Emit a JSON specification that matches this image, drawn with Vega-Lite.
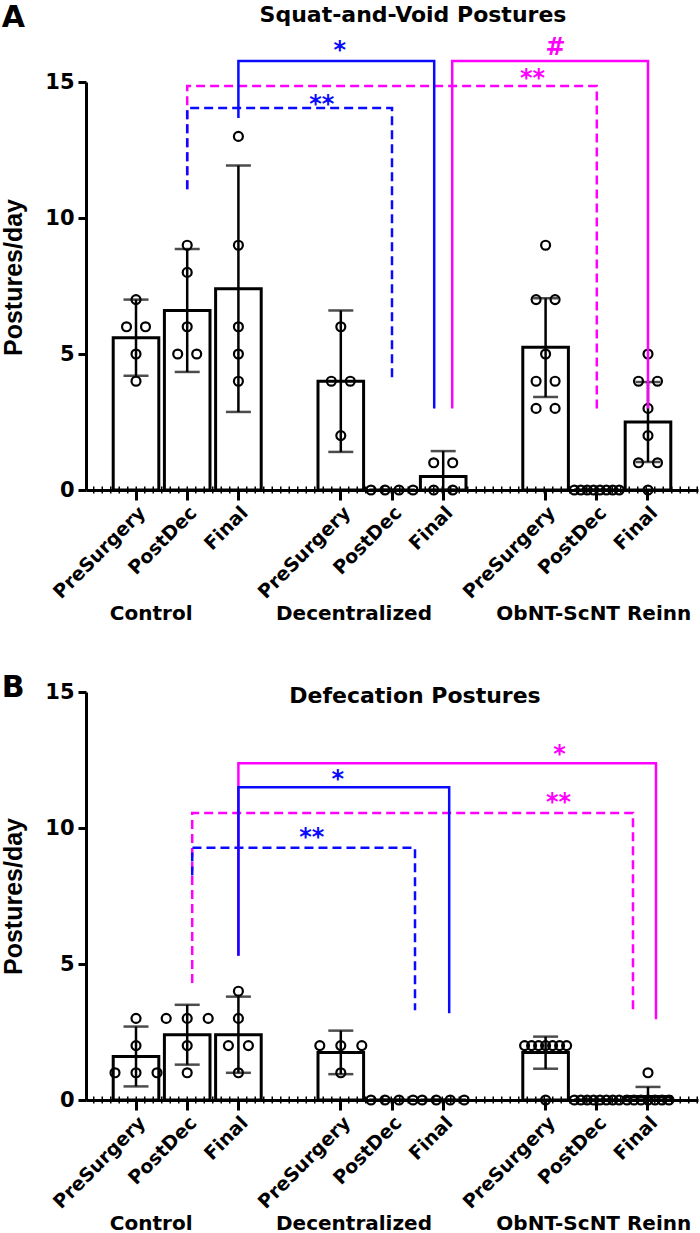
{
  "$schema": "https://vega.github.io/schema/vega-lite/v6.json",
  "background": "white",
  "padding": {"left": 1, "top": 3, "right": 3, "bottom": 0},
  "spacing": 49,
  "datasets": {
    "bars": [
      {"panel": "A", "cat": "Control|PreSurgery", "mean": 5.6, "lo": 4.2, "hi": 7.0},
      {"panel": "A", "cat": "Control|PostDec", "mean": 6.6, "lo": 4.34, "hi": 8.86},
      {"panel": "A", "cat": "Control|Final", "mean": 7.4, "lo": 2.87, "hi": 11.93},
      {"panel": "A", "cat": "Decentralized|PreSurgery", "mean": 4.0, "lo": 1.4, "hi": 6.6},
      {"panel": "A", "cat": "Decentralized|PostDec", "mean": 0, "lo": 0, "hi": 0},
      {"panel": "A", "cat": "Decentralized|Final", "mean": 0.5, "lo": 0, "hi": 1.43},
      {"panel": "A", "cat": "ObNT-ScNT Reinn|PreSurgery", "mean": 5.25, "lo": 3.42, "hi": 7.05},
      {"panel": "A", "cat": "ObNT-ScNT Reinn|PostDec", "mean": 0, "lo": 0, "hi": 0},
      {"panel": "A", "cat": "ObNT-ScNT Reinn|Final", "mean": 2.5, "lo": 1.03, "hi": 3.97},
      {"panel": "B", "cat": "Control|PreSurgery", "mean": 1.6, "lo": 0.5, "hi": 2.7},
      {"panel": "B", "cat": "Control|PostDec", "mean": 2.4, "lo": 1.3, "hi": 3.5},
      {"panel": "B", "cat": "Control|Final", "mean": 2.4, "lo": 1.0, "hi": 3.8},
      {"panel": "B", "cat": "Decentralized|PreSurgery", "mean": 1.75, "lo": 0.95, "hi": 2.55},
      {"panel": "B", "cat": "Decentralized|PostDec", "mean": 0, "lo": 0, "hi": 0},
      {"panel": "B", "cat": "Decentralized|Final", "mean": 0, "lo": 0, "hi": 0},
      {"panel": "B", "cat": "ObNT-ScNT Reinn|PreSurgery", "mean": 1.75, "lo": 1.15, "hi": 2.33},
      {"panel": "B", "cat": "ObNT-ScNT Reinn|PostDec", "mean": 0, "lo": 0, "hi": 0},
      {"panel": "B", "cat": "ObNT-ScNT Reinn|Final", "mean": 0.125, "lo": 0, "hi": 0.48}
    ],
    "points": [
      {"panel": "A", "cat": "Control|PreSurgery", "value": 7, "jitter": 0},
      {"panel": "A", "cat": "Control|PreSurgery", "value": 6, "jitter": -9.5},
      {"panel": "A", "cat": "Control|PreSurgery", "value": 6, "jitter": 9.5},
      {"panel": "A", "cat": "Control|PreSurgery", "value": 5, "jitter": 0},
      {"panel": "A", "cat": "Control|PreSurgery", "value": 4, "jitter": 0},
      {"panel": "A", "cat": "Control|PostDec", "value": 9, "jitter": 0},
      {"panel": "A", "cat": "Control|PostDec", "value": 8, "jitter": 0},
      {"panel": "A", "cat": "Control|PostDec", "value": 6, "jitter": 0},
      {"panel": "A", "cat": "Control|PostDec", "value": 5, "jitter": -9.5},
      {"panel": "A", "cat": "Control|PostDec", "value": 5, "jitter": 9.5},
      {"panel": "A", "cat": "Control|Final", "value": 13, "jitter": 0},
      {"panel": "A", "cat": "Control|Final", "value": 9, "jitter": 0},
      {"panel": "A", "cat": "Control|Final", "value": 6, "jitter": 0},
      {"panel": "A", "cat": "Control|Final", "value": 5, "jitter": 0},
      {"panel": "A", "cat": "Control|Final", "value": 4, "jitter": 0},
      {"panel": "A", "cat": "Decentralized|PreSurgery", "value": 6, "jitter": 0},
      {"panel": "A", "cat": "Decentralized|PreSurgery", "value": 4, "jitter": -9.5},
      {"panel": "A", "cat": "Decentralized|PreSurgery", "value": 4, "jitter": 9.5},
      {"panel": "A", "cat": "Decentralized|PreSurgery", "value": 2, "jitter": 0},
      {"panel": "A", "cat": "Decentralized|PostDec", "value": 0, "jitter": -21},
      {"panel": "A", "cat": "Decentralized|PostDec", "value": 0, "jitter": -7},
      {"panel": "A", "cat": "Decentralized|PostDec", "value": 0, "jitter": 7},
      {"panel": "A", "cat": "Decentralized|PostDec", "value": 0, "jitter": 21},
      {"panel": "A", "cat": "Decentralized|Final", "value": 1, "jitter": -9.5},
      {"panel": "A", "cat": "Decentralized|Final", "value": 1, "jitter": 9.5},
      {"panel": "A", "cat": "Decentralized|Final", "value": 0, "jitter": -9.5},
      {"panel": "A", "cat": "Decentralized|Final", "value": 0, "jitter": 9.5},
      {"panel": "A", "cat": "ObNT-ScNT Reinn|PreSurgery", "value": 9, "jitter": 0},
      {"panel": "A", "cat": "ObNT-ScNT Reinn|PreSurgery", "value": 7, "jitter": -9.5},
      {"panel": "A", "cat": "ObNT-ScNT Reinn|PreSurgery", "value": 7, "jitter": 9.5},
      {"panel": "A", "cat": "ObNT-ScNT Reinn|PreSurgery", "value": 5, "jitter": 0},
      {"panel": "A", "cat": "ObNT-ScNT Reinn|PreSurgery", "value": 4, "jitter": -9.5},
      {"panel": "A", "cat": "ObNT-ScNT Reinn|PreSurgery", "value": 4, "jitter": 9.5},
      {"panel": "A", "cat": "ObNT-ScNT Reinn|PreSurgery", "value": 3, "jitter": -9.5},
      {"panel": "A", "cat": "ObNT-ScNT Reinn|PreSurgery", "value": 3, "jitter": 9.5},
      {"panel": "A", "cat": "ObNT-ScNT Reinn|PostDec", "value": 0, "jitter": -22.4},
      {"panel": "A", "cat": "ObNT-ScNT Reinn|PostDec", "value": 0, "jitter": -16},
      {"panel": "A", "cat": "ObNT-ScNT Reinn|PostDec", "value": 0, "jitter": -9.6},
      {"panel": "A", "cat": "ObNT-ScNT Reinn|PostDec", "value": 0, "jitter": -3.2},
      {"panel": "A", "cat": "ObNT-ScNT Reinn|PostDec", "value": 0, "jitter": 3.2},
      {"panel": "A", "cat": "ObNT-ScNT Reinn|PostDec", "value": 0, "jitter": 9.6},
      {"panel": "A", "cat": "ObNT-ScNT Reinn|PostDec", "value": 0, "jitter": 16},
      {"panel": "A", "cat": "ObNT-ScNT Reinn|PostDec", "value": 0, "jitter": 22.4},
      {"panel": "A", "cat": "ObNT-ScNT Reinn|Final", "value": 5, "jitter": 0},
      {"panel": "A", "cat": "ObNT-ScNT Reinn|Final", "value": 4, "jitter": -9.5},
      {"panel": "A", "cat": "ObNT-ScNT Reinn|Final", "value": 4, "jitter": 9.5},
      {"panel": "A", "cat": "ObNT-ScNT Reinn|Final", "value": 3, "jitter": 0},
      {"panel": "A", "cat": "ObNT-ScNT Reinn|Final", "value": 2, "jitter": 0},
      {"panel": "A", "cat": "ObNT-ScNT Reinn|Final", "value": 1, "jitter": -9.5},
      {"panel": "A", "cat": "ObNT-ScNT Reinn|Final", "value": 1, "jitter": 9.5},
      {"panel": "A", "cat": "ObNT-ScNT Reinn|Final", "value": 0, "jitter": 0},
      {"panel": "B", "cat": "Control|PreSurgery", "value": 3, "jitter": 0},
      {"panel": "B", "cat": "Control|PreSurgery", "value": 2, "jitter": 0},
      {"panel": "B", "cat": "Control|PreSurgery", "value": 1, "jitter": -21},
      {"panel": "B", "cat": "Control|PreSurgery", "value": 1, "jitter": 0},
      {"panel": "B", "cat": "Control|PreSurgery", "value": 1, "jitter": 21},
      {"panel": "B", "cat": "Control|PostDec", "value": 3, "jitter": -21},
      {"panel": "B", "cat": "Control|PostDec", "value": 3, "jitter": 0},
      {"panel": "B", "cat": "Control|PostDec", "value": 3, "jitter": 21},
      {"panel": "B", "cat": "Control|PostDec", "value": 2, "jitter": 0},
      {"panel": "B", "cat": "Control|PostDec", "value": 1, "jitter": 0},
      {"panel": "B", "cat": "Control|Final", "value": 4, "jitter": 0},
      {"panel": "B", "cat": "Control|Final", "value": 3, "jitter": 0},
      {"panel": "B", "cat": "Control|Final", "value": 2, "jitter": -10},
      {"panel": "B", "cat": "Control|Final", "value": 2, "jitter": 10},
      {"panel": "B", "cat": "Control|Final", "value": 1, "jitter": 0},
      {"panel": "B", "cat": "Decentralized|PreSurgery", "value": 2, "jitter": -21},
      {"panel": "B", "cat": "Decentralized|PreSurgery", "value": 2, "jitter": 0},
      {"panel": "B", "cat": "Decentralized|PreSurgery", "value": 2, "jitter": 21},
      {"panel": "B", "cat": "Decentralized|PreSurgery", "value": 1, "jitter": 0},
      {"panel": "B", "cat": "Decentralized|PostDec", "value": 0, "jitter": -21},
      {"panel": "B", "cat": "Decentralized|PostDec", "value": 0, "jitter": -7},
      {"panel": "B", "cat": "Decentralized|PostDec", "value": 0, "jitter": 7},
      {"panel": "B", "cat": "Decentralized|PostDec", "value": 0, "jitter": 21},
      {"panel": "B", "cat": "Decentralized|Final", "value": 0, "jitter": -21},
      {"panel": "B", "cat": "Decentralized|Final", "value": 0, "jitter": -7},
      {"panel": "B", "cat": "Decentralized|Final", "value": 0, "jitter": 7},
      {"panel": "B", "cat": "Decentralized|Final", "value": 0, "jitter": 21},
      {"panel": "B", "cat": "ObNT-ScNT Reinn|PreSurgery", "value": 2, "jitter": -21},
      {"panel": "B", "cat": "ObNT-ScNT Reinn|PreSurgery", "value": 2, "jitter": -14},
      {"panel": "B", "cat": "ObNT-ScNT Reinn|PreSurgery", "value": 2, "jitter": -7},
      {"panel": "B", "cat": "ObNT-ScNT Reinn|PreSurgery", "value": 2, "jitter": 0},
      {"panel": "B", "cat": "ObNT-ScNT Reinn|PreSurgery", "value": 2, "jitter": 7},
      {"panel": "B", "cat": "ObNT-ScNT Reinn|PreSurgery", "value": 2, "jitter": 14},
      {"panel": "B", "cat": "ObNT-ScNT Reinn|PreSurgery", "value": 2, "jitter": 21},
      {"panel": "B", "cat": "ObNT-ScNT Reinn|PreSurgery", "value": 0, "jitter": 0},
      {"panel": "B", "cat": "ObNT-ScNT Reinn|PostDec", "value": 0, "jitter": -22.4},
      {"panel": "B", "cat": "ObNT-ScNT Reinn|PostDec", "value": 0, "jitter": -16},
      {"panel": "B", "cat": "ObNT-ScNT Reinn|PostDec", "value": 0, "jitter": -9.6},
      {"panel": "B", "cat": "ObNT-ScNT Reinn|PostDec", "value": 0, "jitter": -3.2},
      {"panel": "B", "cat": "ObNT-ScNT Reinn|PostDec", "value": 0, "jitter": 3.2},
      {"panel": "B", "cat": "ObNT-ScNT Reinn|PostDec", "value": 0, "jitter": 9.6},
      {"panel": "B", "cat": "ObNT-ScNT Reinn|PostDec", "value": 0, "jitter": 16},
      {"panel": "B", "cat": "ObNT-ScNT Reinn|PostDec", "value": 0, "jitter": 22.4},
      {"panel": "B", "cat": "ObNT-ScNT Reinn|Final", "value": 1, "jitter": 0},
      {"panel": "B", "cat": "ObNT-ScNT Reinn|Final", "value": 0, "jitter": -21},
      {"panel": "B", "cat": "ObNT-ScNT Reinn|Final", "value": 0, "jitter": -14},
      {"panel": "B", "cat": "ObNT-ScNT Reinn|Final", "value": 0, "jitter": -7},
      {"panel": "B", "cat": "ObNT-ScNT Reinn|Final", "value": 0, "jitter": 0},
      {"panel": "B", "cat": "ObNT-ScNT Reinn|Final", "value": 0, "jitter": 7},
      {"panel": "B", "cat": "ObNT-ScNT Reinn|Final", "value": 0, "jitter": 14},
      {"panel": "B", "cat": "ObNT-ScNT Reinn|Final", "value": 0, "jitter": 21}
    ],
    "brackets": [
      {"panel": "A", "id": "A2", "k": 0, "cat": "Control|PostDec", "off": 0, "y": 11.06, "target": "ObNT-ScNT Reinn", "time": "PostDec"},
      {"panel": "A", "id": "A2", "k": 1, "cat": "Control|PostDec", "off": 0, "y": 14.85, "target": "ObNT-ScNT Reinn", "time": "PostDec"},
      {"panel": "A", "id": "A2", "k": 2, "cat": "ObNT-ScNT Reinn|PostDec", "off": 0, "y": 14.85, "target": "ObNT-ScNT Reinn", "time": "PostDec"},
      {"panel": "A", "id": "A2", "k": 3, "cat": "ObNT-ScNT Reinn|PostDec", "off": 0, "y": 3.0, "target": "ObNT-ScNT Reinn", "time": "PostDec"},
      {"panel": "A", "id": "A3", "k": 0, "cat": "Control|PostDec", "off": 0, "y": 11.06, "target": "Decentralized", "time": "PostDec"},
      {"panel": "A", "id": "A3", "k": 1, "cat": "Control|PostDec", "off": 0, "y": 14.04, "target": "Decentralized", "time": "PostDec"},
      {"panel": "A", "id": "A3", "k": 2, "cat": "Decentralized|PostDec", "off": 0, "y": 14.04, "target": "Decentralized", "time": "PostDec"},
      {"panel": "A", "id": "A3", "k": 3, "cat": "Decentralized|PostDec", "off": 0, "y": 3.97, "target": "Decentralized", "time": "PostDec"},
      {"panel": "A", "id": "A4", "k": 0, "cat": "Decentralized|Final", "off": 9, "y": 3.0, "target": "ObNT-ScNT Reinn", "time": "Final"},
      {"panel": "A", "id": "A4", "k": 1, "cat": "Decentralized|Final", "off": 9, "y": 15.77, "target": "ObNT-ScNT Reinn", "time": "Final"},
      {"panel": "A", "id": "A4", "k": 2, "cat": "ObNT-ScNT Reinn|Final", "off": 0, "y": 15.77, "target": "ObNT-ScNT Reinn", "time": "Final"},
      {"panel": "A", "id": "A4", "k": 3, "cat": "ObNT-ScNT Reinn|Final", "off": 0, "y": 3.0, "target": "ObNT-ScNT Reinn", "time": "Final"},
      {"panel": "A", "id": "A1", "k": 0, "cat": "Control|Final", "off": 0, "y": 13.68, "target": "Decentralized", "time": "Final"},
      {"panel": "A", "id": "A1", "k": 1, "cat": "Control|Final", "off": 0, "y": 15.77, "target": "Decentralized", "time": "Final"},
      {"panel": "A", "id": "A1", "k": 2, "cat": "Decentralized|Final", "off": -9, "y": 15.77, "target": "Decentralized", "time": "Final"},
      {"panel": "A", "id": "A1", "k": 3, "cat": "Decentralized|Final", "off": -9, "y": 3.0, "target": "Decentralized", "time": "Final"},
      {"panel": "B", "id": "B3", "k": 0, "cat": "Control|PostDec", "off": 5, "y": 4.3, "target": "ObNT-ScNT Reinn", "time": "PostDec"},
      {"panel": "B", "id": "B3", "k": 1, "cat": "Control|PostDec", "off": 5, "y": 10.55, "target": "ObNT-ScNT Reinn", "time": "PostDec"},
      {"panel": "B", "id": "B3", "k": 2, "cat": "ObNT-ScNT Reinn|Final", "off": -15, "y": 10.55, "target": "ObNT-ScNT Reinn", "time": "PostDec"},
      {"panel": "B", "id": "B3", "k": 3, "cat": "ObNT-ScNT Reinn|Final", "off": -15, "y": 3.3, "target": "ObNT-ScNT Reinn", "time": "PostDec"},
      {"panel": "B", "id": "B4", "k": 0, "cat": "Control|PostDec", "off": 5, "y": 8.25, "target": "Decentralized", "time": "PostDec"},
      {"panel": "B", "id": "B4", "k": 1, "cat": "Control|PostDec", "off": 5, "y": 9.27, "target": "Decentralized", "time": "PostDec"},
      {"panel": "B", "id": "B4", "k": 2, "cat": "Decentralized|PostDec", "off": 23, "y": 9.27, "target": "Decentralized", "time": "PostDec"},
      {"panel": "B", "id": "B4", "k": 3, "cat": "Decentralized|PostDec", "off": 23, "y": 3.3, "target": "Decentralized", "time": "PostDec"},
      {"panel": "B", "id": "B1", "k": 0, "cat": "Control|Final", "off": 0, "y": 5.3, "target": "ObNT-ScNT Reinn", "time": "Final"},
      {"panel": "B", "id": "B1", "k": 1, "cat": "Control|Final", "off": 0, "y": 12.38, "target": "ObNT-ScNT Reinn", "time": "Final"},
      {"panel": "B", "id": "B1", "k": 2, "cat": "ObNT-ScNT Reinn|Final", "off": 8, "y": 12.38, "target": "ObNT-ScNT Reinn", "time": "Final"},
      {"panel": "B", "id": "B1", "k": 3, "cat": "ObNT-ScNT Reinn|Final", "off": 8, "y": 2.97, "target": "ObNT-ScNT Reinn", "time": "Final"},
      {"panel": "B", "id": "B2", "k": 0, "cat": "Control|Final", "off": 0, "y": 5.3, "target": "Decentralized", "time": "Final"},
      {"panel": "B", "id": "B2", "k": 1, "cat": "Control|Final", "off": 0, "y": 11.5, "target": "Decentralized", "time": "Final"},
      {"panel": "B", "id": "B2", "k": 2, "cat": "Decentralized|Final", "off": 6, "y": 11.5, "target": "Decentralized", "time": "Final"},
      {"panel": "B", "id": "B2", "k": 3, "cat": "Decentralized|Final", "off": 6, "y": 3.19, "target": "Decentralized", "time": "Final"}
    ],
    "sig": [
      {"panel": "A", "cat": "Decentralized|PreSurgery", "off": -1, "y": 15.88, "label": "*", "target": "Decentralized"},
      {"panel": "A", "cat": "ObNT-ScNT Reinn|PreSurgery", "off": -13, "y": 14.85, "label": "**", "target": "ObNT-ScNT Reinn"},
      {"panel": "A", "cat": "Decentralized|PreSurgery", "off": -19, "y": 13.9, "label": "**", "target": "Decentralized"},
      {"panel": "A", "cat": "ObNT-ScNT Reinn|PreSurgery", "off": 10, "y": 15.99, "label": "#", "target": "ObNT-ScNT Reinn"},
      {"panel": "B", "cat": "ObNT-ScNT Reinn|PreSurgery", "off": 14, "y": 12.42, "label": "*", "target": "ObNT-ScNT Reinn"},
      {"panel": "B", "cat": "Decentralized|PreSurgery", "off": -3, "y": 11.5, "label": "*", "target": "Decentralized"},
      {"panel": "B", "cat": "ObNT-ScNT Reinn|PreSurgery", "off": 13, "y": 10.66, "label": "**", "target": "ObNT-ScNT Reinn"},
      {"panel": "B", "cat": "Decentralized|PreSurgery", "off": -29, "y": 9.38, "label": "**", "target": "Decentralized"}
    ],
    "titles": [
      {"panel": "A", "cat": "Decentralized|PostDec", "off": 21, "y": 17.46, "label": "Squat-and-Void Postures"},
      {"panel": "B", "cat": "Decentralized|PostDec", "off": 23, "y": 14.84, "label": "Defecation Postures"}
    ],
    "groups": [
      {"cat": "Control|PostDec", "off": -36, "label": "Control"},
      {"cat": "Decentralized|PostDec", "off": -38, "label": "Decentralized"},
      {"cat": "ObNT-ScNT Reinn|PostDec", "off": -3, "label": "ObNT-ScNT Reinn"}
    ]
  },
  "vconcat": [
    {
      "width": 612,
      "height": 408,
      "title": {"text": "A", "offset": -29},
      "resolve": {"scale": {"xOffset": "independent"}},
      "layer": [
        {
          "data": {"name": "bars"},
          "transform": [{"filter": "datum.panel == 'A'"}],
          "mark": {"type": "bar", "fill": "white", "stroke": "black", "strokeWidth": 3, "width": {"band": 0.95}},
          "encoding": {
            "x": {"field": "cat", "type": "nominal", "sort": null, "scale": {"domain": ["Control|PreSurgery", "Control|PostDec", "Control|Final", "gap1", "Decentralized|PreSurgery", "Decentralized|PostDec", "Decentralized|Final", "gap2", "ObNT-ScNT Reinn|PreSurgery", "ObNT-ScNT Reinn|PostDec", "ObNT-ScNT Reinn|Final"], "paddingInner": 0.0625, "paddingOuter": 0.508},
              "axis": {"title": null, "values": ["Control|PreSurgery", "Control|PostDec", "Control|Final", "Decentralized|PreSurgery", "Decentralized|PostDec", "Decentralized|Final", "ObNT-ScNT Reinn|PreSurgery", "ObNT-ScNT Reinn|PostDec", "ObNT-ScNT Reinn|Final"], "labelExpr": "slice(datum.label, indexof(datum.label, '|') + 1)", "labelAngle": -45}},
            "y": {"field": "mean", "type": "quantitative", "title": "Postures/day", "scale": {"domain": [0, 15], "nice": false}, "axis": {"title": "Postures/day", "values": [0, 5, 10, 15], "titleY": 195}}
          }
        },
        {
          "data": {"name": "bars"},
          "transform": [{"filter": "datum.panel == 'A'"}],
          "mark": {"type": "errorbar", "ticks": true, "size": 25, "thickness": 2.5, "color": "black"},
          "encoding": {
            "x": {"field": "cat", "type": "nominal", "title": null},
            "y": {"field": "lo", "type": "quantitative", "title": "Postures/day", "scale": {"domain": [0, 15], "nice": false}},
            "y2": {"field": "hi"}
          }
        },
        {
          "data": {"values": [{}]},
          "mark": {"type": "rule", "color": "black", "strokeWidth": 7, "strokeDash": [1.5, 7]},
          "encoding": {"y": {"datum": 0, "type": "quantitative", "title": "Postures/day", "scale": {"domain": [0, 15], "nice": false}}}
        },
        {
          "data": {"name": "points"},
          "transform": [{"filter": "datum.panel == 'A'"}],
          "mark": {"type": "point", "shape": "circle", "filled": false, "size": 80, "strokeWidth": 2.2, "color": "black", "opacity": 1},
          "encoding": {
            "x": {"field": "cat", "type": "nominal", "title": null},
            "xOffset": {"field": "jitter", "type": "quantitative", "scale": {"domain": [-24, 24], "range": [0, 48]}},
            "y": {"field": "value", "type": "quantitative", "title": "Postures/day", "scale": {"domain": [0, 15], "nice": false}}
          }
        },
        {
          "data": {"name": "brackets"},
          "transform": [{"filter": "datum.panel == 'A'"}],
          "mark": {"type": "line", "strokeWidth": 2.5, "strokeCap": "butt", "strokeJoin": "miter"},
          "encoding": {
            "x": {"field": "cat", "type": "nominal", "title": null},
            "xOffset": {"field": "off", "type": "quantitative", "scale": {"domain": [-24, 24], "range": [0, 48]}},
            "y": {"field": "y", "type": "quantitative", "title": "Postures/day", "scale": {"domain": [0, 15], "nice": false}},
            "detail": {"field": "id"},
            "order": {"field": "k", "type": "quantitative"},
            "color": {"field": "target", "type": "nominal", "scale": {"domain": ["Decentralized", "ObNT-ScNT Reinn"], "range": ["#0a0aff", "#ff00ff"]}, "legend": null},
            "strokeDash": {"field": "time", "type": "nominal", "scale": {"domain": ["PostDec", "Final"], "range": [[9, 5], [1, 0]]}, "legend": null}
          }
        },
        {
          "data": {"name": "sig"},
          "transform": [{"filter": "datum.panel == 'A'"}],
          "mark": {"type": "text", "font": "DejaVu Sans", "fontWeight": "bold", "baseline": "alphabetic", "align": "center"},
          "encoding": {
            "x": {"field": "cat", "type": "nominal", "title": null},
            "xOffset": {"field": "off", "type": "quantitative", "scale": {"domain": [-24, 24], "range": [0, 48]}},
            "y": {"field": "y", "type": "quantitative", "title": "Postures/day", "scale": {"domain": [0, 15], "nice": false}},
            "text": {"field": "label"},
            "size": {"field": "label", "type": "nominal", "scale": {"domain": ["*", "**", "#"], "range": [24, 24, 19]}, "legend": null},
            "color": {"field": "target", "type": "nominal", "scale": {"domain": ["Decentralized", "ObNT-ScNT Reinn"], "range": ["#0a0aff", "#ff00ff"]}, "legend": null}
          }
        },
        {
          "data": {"name": "titles"},
          "transform": [{"filter": "datum.panel == 'A'"}],
          "mark": {"type": "text", "font": "DejaVu Sans", "fontWeight": "bold", "fontSize": 22, "baseline": "middle", "align": "center", "color": "black"},
          "encoding": {
            "x": {"field": "cat", "type": "nominal", "title": null},
            "xOffset": {"field": "off", "type": "quantitative", "scale": {"domain": [-24, 24], "range": [0, 48]}},
            "y": {"field": "y", "type": "quantitative", "title": "Postures/day", "scale": {"domain": [0, 15], "nice": false}},
            "text": {"field": "label"}
          }
        },
        {
          "data": {"name": "groups"},
          "mark": {"type": "text", "font": "DejaVu Sans", "fontWeight": "bold", "fontSize": 20, "baseline": "middle", "align": "center", "color": "black", "dy": 123.5},
          "encoding": {
            "x": {"field": "cat", "type": "nominal", "title": null},
            "xOffset": {"field": "off", "type": "quantitative", "scale": {"domain": [-24, 24], "range": [0, 48]}},
            "y": {"datum": 0, "type": "quantitative", "title": "Postures/day", "scale": {"domain": [0, 15], "nice": false}},
            "text": {"field": "label"}
          }
        }
      ]
    },
    {
      "width": 612,
      "height": 408,
      "title": {"text": "B", "offset": -22},
      "resolve": {"scale": {"xOffset": "independent"}},
      "layer": [
        {
          "data": {"name": "bars"},
          "transform": [{"filter": "datum.panel == 'B'"}],
          "mark": {"type": "bar", "fill": "white", "stroke": "black", "strokeWidth": 3, "width": {"band": 0.95}},
          "encoding": {
            "x": {"field": "cat", "type": "nominal", "sort": null, "scale": {"domain": ["Control|PreSurgery", "Control|PostDec", "Control|Final", "gap1", "Decentralized|PreSurgery", "Decentralized|PostDec", "Decentralized|Final", "gap2", "ObNT-ScNT Reinn|PreSurgery", "ObNT-ScNT Reinn|PostDec", "ObNT-ScNT Reinn|Final"], "paddingInner": 0.0625, "paddingOuter": 0.508},
              "axis": {"title": null, "values": ["Control|PreSurgery", "Control|PostDec", "Control|Final", "Decentralized|PreSurgery", "Decentralized|PostDec", "Decentralized|Final", "ObNT-ScNT Reinn|PreSurgery", "ObNT-ScNT Reinn|PostDec", "ObNT-ScNT Reinn|Final"], "labelExpr": "slice(datum.label, indexof(datum.label, '|') + 1)", "labelAngle": -45}},
            "y": {"field": "mean", "type": "quantitative", "title": "Postures/day", "scale": {"domain": [0, 15], "nice": false}, "axis": {"title": "Postures/day", "values": [0, 5, 10, 15]}}
          }
        },
        {
          "data": {"name": "bars"},
          "transform": [{"filter": "datum.panel == 'B'"}],
          "mark": {"type": "errorbar", "ticks": true, "size": 25, "thickness": 2.5, "color": "black"},
          "encoding": {
            "x": {"field": "cat", "type": "nominal", "title": null},
            "y": {"field": "lo", "type": "quantitative", "title": "Postures/day", "scale": {"domain": [0, 15], "nice": false}},
            "y2": {"field": "hi"}
          }
        },
        {
          "data": {"values": [{}]},
          "mark": {"type": "rule", "color": "black", "strokeWidth": 7, "strokeDash": [1.5, 7]},
          "encoding": {"y": {"datum": 0, "type": "quantitative", "title": "Postures/day", "scale": {"domain": [0, 15], "nice": false}}}
        },
        {
          "data": {"name": "points"},
          "transform": [{"filter": "datum.panel == 'B'"}],
          "mark": {"type": "point", "shape": "circle", "filled": false, "size": 80, "strokeWidth": 2.2, "color": "black", "opacity": 1},
          "encoding": {
            "x": {"field": "cat", "type": "nominal", "title": null},
            "xOffset": {"field": "jitter", "type": "quantitative", "scale": {"domain": [-24, 24], "range": [0, 48]}},
            "y": {"field": "value", "type": "quantitative", "title": "Postures/day", "scale": {"domain": [0, 15], "nice": false}}
          }
        },
        {
          "data": {"name": "brackets"},
          "transform": [{"filter": "datum.panel == 'B'"}],
          "mark": {"type": "line", "strokeWidth": 2.5, "strokeCap": "butt", "strokeJoin": "miter"},
          "encoding": {
            "x": {"field": "cat", "type": "nominal", "title": null},
            "xOffset": {"field": "off", "type": "quantitative", "scale": {"domain": [-24, 24], "range": [0, 48]}},
            "y": {"field": "y", "type": "quantitative", "title": "Postures/day", "scale": {"domain": [0, 15], "nice": false}},
            "detail": {"field": "id"},
            "order": {"field": "k", "type": "quantitative"},
            "color": {"field": "target", "type": "nominal", "scale": {"domain": ["Decentralized", "ObNT-ScNT Reinn"], "range": ["#0a0aff", "#ff00ff"]}, "legend": null},
            "strokeDash": {"field": "time", "type": "nominal", "scale": {"domain": ["PostDec", "Final"], "range": [[9, 5], [1, 0]]}, "legend": null}
          }
        },
        {
          "data": {"name": "sig"},
          "transform": [{"filter": "datum.panel == 'B'"}],
          "mark": {"type": "text", "font": "DejaVu Sans", "fontWeight": "bold", "baseline": "alphabetic", "align": "center"},
          "encoding": {
            "x": {"field": "cat", "type": "nominal", "title": null},
            "xOffset": {"field": "off", "type": "quantitative", "scale": {"domain": [-24, 24], "range": [0, 48]}},
            "y": {"field": "y", "type": "quantitative", "title": "Postures/day", "scale": {"domain": [0, 15], "nice": false}},
            "text": {"field": "label"},
            "size": {"field": "label", "type": "nominal", "scale": {"domain": ["*", "**", "#"], "range": [24, 24, 19]}, "legend": null},
            "color": {"field": "target", "type": "nominal", "scale": {"domain": ["Decentralized", "ObNT-ScNT Reinn"], "range": ["#0a0aff", "#ff00ff"]}, "legend": null}
          }
        },
        {
          "data": {"name": "titles"},
          "transform": [{"filter": "datum.panel == 'B'"}],
          "mark": {"type": "text", "font": "DejaVu Sans", "fontWeight": "bold", "fontSize": 22, "baseline": "middle", "align": "center", "color": "black"},
          "encoding": {
            "x": {"field": "cat", "type": "nominal", "title": null},
            "xOffset": {"field": "off", "type": "quantitative", "scale": {"domain": [-24, 24], "range": [0, 48]}},
            "y": {"field": "y", "type": "quantitative", "title": "Postures/day", "scale": {"domain": [0, 15], "nice": false}},
            "text": {"field": "label"}
          }
        },
        {
          "data": {"name": "groups"},
          "mark": {"type": "text", "font": "DejaVu Sans", "fontWeight": "bold", "fontSize": 20, "baseline": "middle", "align": "center", "color": "black", "dy": 123.5},
          "encoding": {
            "x": {"field": "cat", "type": "nominal", "title": null},
            "xOffset": {"field": "off", "type": "quantitative", "scale": {"domain": [-24, 24], "range": [0, 48]}},
            "y": {"datum": 0, "type": "quantitative", "title": "Postures/day", "scale": {"domain": [0, 15], "nice": false}},
            "text": {"field": "label"}
          }
        }
      ]
    }
  ],
  "config": {
    "view": {"stroke": null},
    "title": {"anchor": "start", "frame": "bounds", "font": "DejaVu Sans", "fontSize": 30, "fontWeight": "bold", "color": "black"},
    "axis": {"domainColor": "black", "domainWidth": 3, "tickColor": "black", "tickWidth": 3, "labelColor": "black", "titleColor": "black", "labelFontWeight": "bold", "titleFontWeight": "bold", "grid": false},
    "axisY": {"tickSize": 8, "labelFont": "DejaVu Sans", "labelFontSize": 21, "labelPadding": 4, "titleFont": "Liberation Sans", "titleFontSize": 25, "titlePadding": 18},
    "axisX": {"tickSize": 10, "labelFont": "DejaVu Sans", "labelFontSize": 19, "labelPadding": 3}
  }
}
